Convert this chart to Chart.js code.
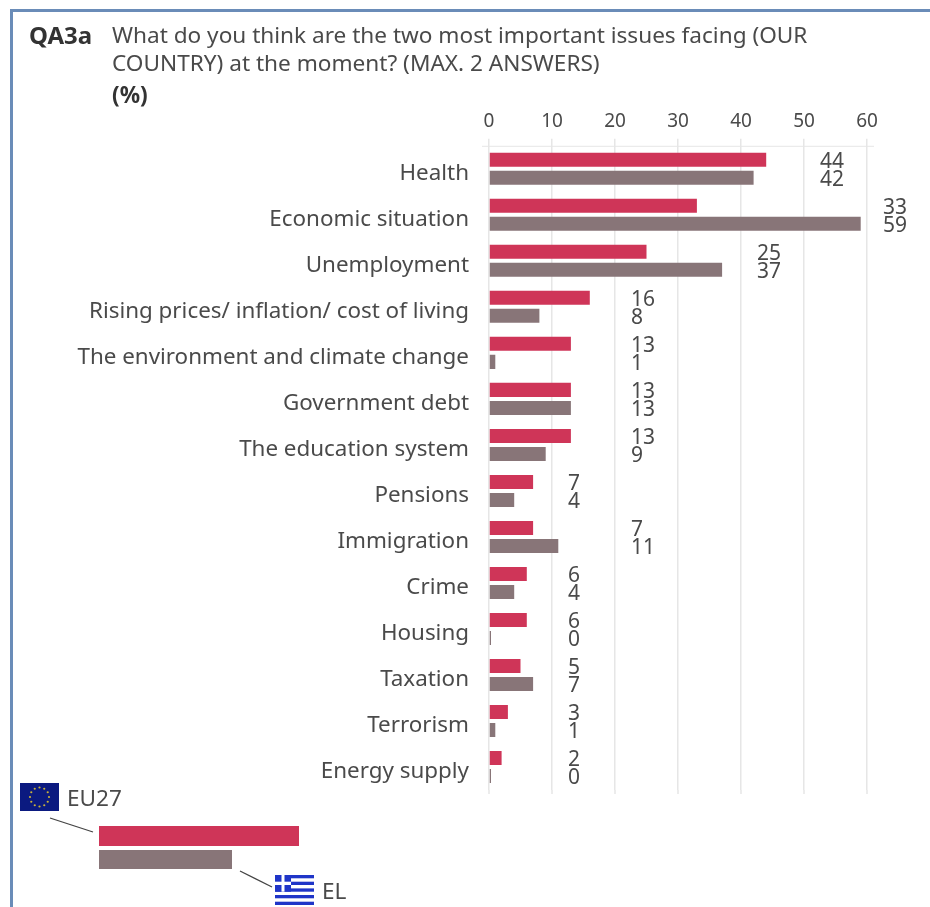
<!DOCTYPE html>
<html>
<head>
<meta charset="utf-8">
<title>QA3a</title>
<script src="https://cdn.jsdelivr.net/npm/chart.js@4/dist/chart.umd.min.js"></script>
<style>
  html, body { margin: 0; padding: 0; background: #fff; }
  #page { position: relative; width: 930px; height: 907px; overflow: hidden; font-family: "Noto Sans", sans-serif; color: #4a4a4a; }
  #frame { position: absolute; left: 10px; top: 9px; width: 930px; height: 920px; border: 3px solid #6a8cb8; box-sizing: border-box; }
  #chart-canvas { position: absolute; left: 0; top: 0; }
  .txt { position: absolute; white-space: nowrap; font-size: 22.6px; line-height: 28px; }
  .strong { font-weight: 700; color: #333; }
  #legend-art { position: absolute; left: 0; top: 0; }
</style>
</head>
<body>
<div id="page">
  <div id="frame"></div>
  <canvas id="chart-canvas" width="930" height="907"></canvas>
  <div class="txt strong" style="left:29px;top:21px;font-size:24px">QA3a</div>
  <div class="txt" style="left:112px;top:21px">What do you think are the two most important issues facing (OUR</div>
  <div class="txt" style="left:112px;top:49px">COUNTRY) at the moment? (MAX. 2 ANSWERS)</div>
  <div class="txt strong" style="left:112px;top:81px">(%)</div>

  <svg id="legend-art" width="930" height="907">
    <rect x="20" y="783" width="39" height="28" fill="#0b1a80"/>
    <g id="eu-stars" fill="#c9b23a"></g>
    <line x1="50" y1="818" x2="93" y2="832" stroke="#444" stroke-width="1.3"/>
    <rect x="99" y="826" width="200" height="20" fill="#cf3558"/>
    <rect x="99" y="850" width="133" height="19" fill="#887578"/>
    <line x1="240" y1="871" x2="272" y2="887" stroke="#444" stroke-width="1.3"/>
    <g id="el-flag">
      <rect x="275" y="875" width="39" height="30" fill="#fff"/>
      <rect x="275" y="875" width="39" height="3.3" fill="#1f35c8"/>
      <rect x="275" y="881.7" width="39" height="3.3" fill="#1f35c8"/>
      <rect x="275" y="888.4" width="39" height="3.3" fill="#1f35c8"/>
      <rect x="275" y="895" width="39" height="3.3" fill="#1f35c8"/>
      <rect x="275" y="901.7" width="39" height="3.3" fill="#1f35c8"/>
      <rect x="275" y="875" width="16" height="16.7" fill="#1f35c8"/>
      <rect x="281.5" y="875" width="3" height="16.7" fill="#fff"/>
      <rect x="275" y="881.7" width="16" height="3.3" fill="#fff"/>
    </g>
  </svg>
  <div class="txt" style="left:67px;top:784px">EU27</div>
  <div class="txt" style="left:322px;top:877px">EL</div>
</div>
<script>
// survey results, % of respondents
const categories = [
  "Health", "Economic situation", "Unemployment",
  "Rising prices/ inflation/ cost of living",
  "The environment and climate change", "Government debt",
  "The education system", "Pensions", "Immigration", "Crime",
  "Housing", "Taxation", "Terrorism", "Energy supply"
];
const eu27Values = [44, 33, 25, 16, 13, 13, 13, 7, 7, 6, 6, 5, 3, 2];
const elValues = [42, 59, 37, 8, 1, 13, 9, 4, 11, 4, 0, 7, 1, 0];
const xTicks = [0, 10, 20, 30, 40, 50, 60];

const RED = "#cf3558";
const GREY = "#887578";
const TEXT = "#4a4a4a";
const FONT = '"Noto Sans", sans-serif';

// ring of twelve stars on the EU flag
const stars = document.getElementById("eu-stars");
for (let i = 0; i < 12; i++) {
  const a = (i / 12) * Math.PI * 2;
  const c = document.createElementNS("http://www.w3.org/2000/svg", "circle");
  c.setAttribute("cx", 39.5 + Math.cos(a) * 9.5);
  c.setAttribute("cy", 797 + Math.sin(a) * 9.5);
  c.setAttribute("r", 1.1);
  stars.appendChild(c);
}

// value pairs sit just past the next gridline after the longer bar
const pairLabels = {
  id: "pairLabels",
  afterDatasetsDraw(chart) {
    const { ctx, scales } = chart;
    ctx.save();
    ctx.font = "21px " + FONT;
    ctx.fillStyle = TEXT;
    ctx.textAlign = "left";
    ctx.textBaseline = "middle";
    categories.forEach((name, i) => {
      const top = Math.ceil(Math.max(eu27Values[i], elValues[i], 1) / 10) * 10;
      const x = scales.x.getPixelForValue(top) + 16;
      const y = scales.y.getPixelForValue(i) + 2;
      ctx.fillText(eu27Values[i], x, y - 9);
      ctx.fillText(elValues[i], x, y + 9);
    });
    ctx.restore();
  },
};

// top axis rule runs a little past both ends of the scale,
// gridlines run a little past the last row
const axisRule = {
  id: "axisRule",
  beforeDatasetsDraw(chart) {
    const { ctx, chartArea, scales } = chart;
    ctx.save();
    ctx.strokeStyle = "#e6e6e6";
    ctx.lineWidth = 1;
    ctx.beginPath();
    ctx.moveTo(chartArea.left - 7, chartArea.top + 0.5);
    ctx.lineTo(chartArea.right + 7, chartArea.top + 0.5);
    ctx.stroke();
    ctx.lineWidth = 1.5;
    ctx.beginPath();
    xTicks.forEach((value) => {
      const x = scales.x.getPixelForValue(value);
      ctx.moveTo(x, chartArea.bottom);
      ctx.lineTo(x, chartArea.bottom + 4);
    });
    ctx.stroke();
    ctx.restore();
  },
};

new Chart(document.getElementById("chart-canvas"), {
  type: "bar",
  plugins: [axisRule, pairLabels],
  data: {
    labels: categories,
    datasets: [
      { label: "EU27", data: eu27Values, backgroundColor: RED },
      { label: "EL", data: elValues, backgroundColor: GREY, minBarLength: 2 },
    ],
  },
  options: {
    indexAxis: "y",
    responsive: false,
    animation: false,
    categoryPercentage: 0.783,
    barPercentage: 0.778,
    layout: { padding: { left: 0, right: 63, top: 104, bottom: 117 } },
    plugins: {
      legend: { display: false },
      title: { display: false },
      tooltip: { enabled: false },
    },
    scales: {
      x: {
        position: "top",
        min: 0,
        max: 60,
        afterBuildTicks(axis) {
          axis.ticks = xTicks.map((value) => ({ value }));
        },
        grid: { color: "#e6e6e6", lineWidth: 1.5, tickLength: 7, drawTicks: true },
        border: { display: false },
        ticks: { color: TEXT, font: { family: FONT, size: 19 }, padding: 6, maxRotation: 0 },
      },
      y: {
        grid: { display: false },
        border: { display: false },
        ticks: { color: TEXT, font: { family: FONT, size: 22.4 }, padding: 12, labelOffset: 5, autoSkip: false },
        afterFit(axis) { axis.width = 489; },
      },
    },
  },
});
</script>
</body>
</html>
